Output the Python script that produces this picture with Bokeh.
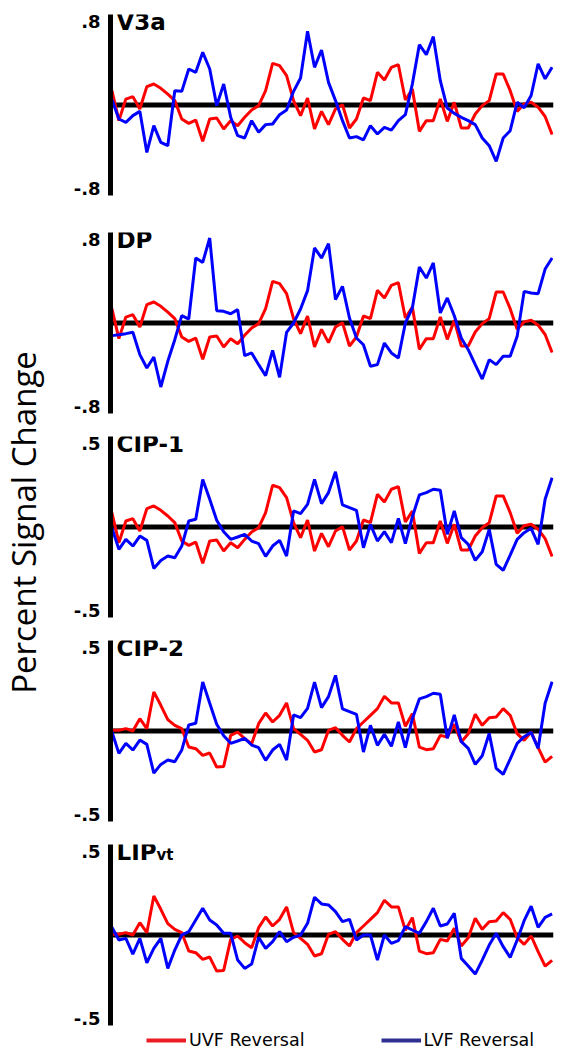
import math
from bokeh.plotting import figure
from bokeh.models import Range1d, LinearAxis, FixedTicker, Span, Label, Legend, LegendItem
from bokeh.layouts import row, column
from bokeh.embed import file_html
from bokeh.resources import INLINE

time_points = list(range(64))

v3a_uvf = [0.137, -0.150, 0.057, 0.080, -0.038, 0.176, 0.201, 0.160, 0.105, 0.042,
           -0.134, -0.176, -0.144, -0.348, -0.134, -0.125, -0.230, -0.150, -0.198, -0.118,
           -0.048, -0.006, 0.137, 0.399, 0.377, 0.281, 0.042, -0.102, 0.067, -0.230,
           -0.061, -0.188, -0.038, 0.003, -0.220, -0.134, 0.067, 0.042, 0.313, 0.240,
           0.361, 0.386, 0.048, 0.153, -0.252, -0.150, -0.150, 0.057, -0.157, 0.026,
           -0.220, -0.220, -0.086, -0.006, 0.042, 0.297, 0.297, 0.137, -0.061, 0.011,
           0.027, -0.021, -0.110, -0.283]
v3a_lvf = [0.053, -0.134, -0.166, -0.102, -0.061, -0.454, -0.198, -0.358, -0.390, 0.137,
           0.131, 0.345, 0.313, 0.505, 0.345, -0.006, 0.201, -0.118, -0.294, -0.316,
           -0.150, -0.262, -0.188, -0.182, -0.093, -0.048, 0.131, 0.259, 0.706, 0.361,
           0.527, 0.217, 0.042, -0.150, -0.316, -0.303, -0.335, -0.198, -0.278, -0.214,
           -0.240, -0.150, -0.093, 0.201, 0.578, 0.482, 0.655, 0.233, -0.029, -0.080,
           -0.118, -0.150, -0.188, -0.316, -0.390, -0.540, -0.316, -0.246, 0.026, -0.027,
           0.091, 0.395, 0.251, 0.362]

dp_uvf = [0.137, -0.150, 0.057, 0.080, -0.038, 0.176, 0.201, 0.160, 0.105, 0.042,
          -0.134, -0.176, -0.144, -0.348, -0.134, -0.125, -0.230, -0.150, -0.198, -0.118,
          -0.048, -0.006, 0.137, 0.399, 0.377, 0.281, 0.042, -0.102, 0.067, -0.230,
          -0.061, -0.188, -0.038, 0.003, -0.220, -0.134, 0.067, 0.042, 0.313, 0.240,
          0.361, 0.386, 0.048, 0.153, -0.252, -0.150, -0.150, 0.057, -0.157, 0.026,
          -0.220, -0.220, -0.086, -0.006, 0.042, 0.297, 0.297, 0.137, -0.061, 0.011,
          0.027, -0.021, -0.110, -0.283]
dp_lvf = [-0.121, -0.112, -0.102, -0.089, -0.303, -0.431, -0.326, -0.613, -0.367, -0.160,
          0.070, 0.038, 0.623, 0.581, 0.814, 0.118, 0.112, 0.089, 0.128, -0.313,
          -0.287, -0.399, -0.505, -0.262, -0.521, -0.089, 0.000, 0.134, 0.310, 0.719,
          0.623, 0.760, 0.224, 0.351, 0.048, -0.144, -0.208, -0.415, -0.399, -0.192,
          -0.287, -0.335, 0.000, 0.144, 0.537, 0.431, 0.575, 0.096, 0.240, 0.070,
          -0.144, -0.256, -0.399, -0.537, -0.351, -0.399, -0.319, -0.319, -0.128, 0.303,
          0.287, 0.281, 0.517, 0.623]

cip1_uvf = [0.086, -0.094, 0.036, 0.050, -0.024, 0.110, 0.126, 0.100, 0.066, 0.026,
            -0.084, -0.110, -0.090, -0.218, -0.084, -0.078, -0.144, -0.094, -0.124, -0.074,
            -0.030, -0.004, 0.086, 0.250, 0.236, 0.176, 0.026, -0.064, 0.042, -0.144,
            -0.038, -0.118, -0.024, 0.002, -0.138, -0.084, 0.042, 0.026, 0.196, 0.150,
            0.226, 0.242, 0.030, 0.096, -0.158, -0.094, -0.094, 0.036, -0.098, 0.016,
            -0.138, -0.138, -0.054, -0.004, 0.026, 0.186, 0.186, 0.086, -0.038, 0.007,
            0.017, -0.013, -0.069, -0.177]
cip1_lvf = [-0.004, -0.134, -0.074, -0.114, -0.054, -0.080, -0.248, -0.200, -0.174, -0.184,
            -0.114, 0.036, 0.046, 0.285, 0.166, 0.040, -0.028, -0.074, -0.060, -0.044,
            -0.084, -0.100, -0.176, -0.114, -0.080, -0.174, 0.096, 0.080, 0.136, 0.285,
            0.140, 0.206, 0.331, 0.132, 0.116, 0.100, -0.124, 0.016, -0.084, -0.028,
            -0.094, 0.052, -0.100, 0.060, 0.192, 0.206, 0.226, 0.220, -0.044, 0.096,
            -0.064, -0.104, -0.200, -0.148, -0.014, -0.224, -0.259, -0.168, -0.074, -0.034,
            -0.008, -0.104, 0.166, 0.295]

cip2_uvf = [0.004, 0.004, 0.014, 0.000, 0.074, 0.014, 0.234, 0.154, 0.068, 0.034,
            0.014, -0.096, -0.106, -0.146, -0.132, -0.216, -0.212, -0.026, -0.006, -0.046,
            -0.076, 0.044, 0.108, 0.054, 0.094, 0.168, 0.014, -0.020, -0.056, -0.126,
            -0.112, 0.004, 0.020, -0.026, -0.066, 0.014, 0.054, 0.094, 0.134, 0.208,
            0.168, 0.168, 0.028, 0.104, -0.096, -0.112, -0.106, -0.026, -0.036, 0.040,
            -0.066, -0.016, 0.100, 0.034, 0.080, 0.084, 0.134, 0.094, -0.016, -0.056,
            -0.006, -0.100, -0.186, -0.152]
cip2_lvf = [-0.004, -0.134, -0.074, -0.114, -0.054, -0.080, -0.252, -0.200, -0.174, -0.184,
            -0.114, 0.036, 0.046, 0.293, 0.166, 0.040, -0.028, -0.074, -0.060, -0.044,
            -0.084, -0.100, -0.176, -0.114, -0.080, -0.174, 0.096, 0.080, 0.136, 0.293,
            0.140, 0.206, 0.333, 0.132, 0.116, 0.100, -0.126, 0.034, -0.086, -0.020,
            -0.092, 0.054, -0.100, 0.074, 0.192, 0.206, 0.226, 0.220, -0.044, 0.096,
            -0.064, -0.104, -0.200, -0.148, -0.014, -0.224, -0.259, -0.168, -0.074, -0.034,
            -0.008, -0.104, 0.166, 0.295]

lip_uvf = [0.004, 0.004, 0.014, 0.000, 0.074, 0.014, 0.234, 0.154, 0.068, 0.034,
           0.014, -0.096, -0.106, -0.146, -0.132, -0.216, -0.212, -0.026, -0.006, -0.046,
           -0.076, 0.044, 0.108, 0.054, 0.094, 0.168, 0.014, -0.020, -0.056, -0.126,
           -0.112, 0.004, 0.020, -0.026, -0.066, 0.014, 0.054, 0.094, 0.134, 0.208,
           0.168, 0.168, 0.028, 0.104, -0.096, -0.112, -0.106, -0.026, -0.036, 0.040,
           -0.066, -0.016, 0.100, 0.034, 0.080, 0.084, 0.134, 0.094, -0.016, -0.056,
           -0.006, -0.100, -0.186, -0.152]
lip_lvf = [0.046, -0.030, -0.020, -0.114, -0.020, -0.166, -0.080, -0.020, -0.200, -0.090,
           0.000, 0.020, 0.090, 0.160, 0.090, 0.060, 0.010, 0.010, -0.150, -0.200,
           -0.174, -0.014, -0.080, -0.040, 0.020, -0.040, -0.014, 0.000, 0.070, 0.226,
           0.186, 0.180, 0.140, 0.080, 0.094, -0.030, 0.000, 0.000, -0.150, 0.000,
           -0.050, -0.034, 0.050, 0.030, 0.010, 0.080, 0.160, 0.054, 0.066, 0.130,
           -0.140, -0.186, -0.234, -0.150, -0.060, 0.010, -0.070, -0.134, -0.030, 0.086,
           0.172, 0.046, 0.106, 0.126]

panel_titles = ["V3a", "DP", "CIP-1", "CIP-2", "LIP"]
panel_limits = [0.8, 0.8, 0.5, 0.5, 0.5]
tick_texts = [".8", ".8", ".5", ".5", ".5"]
legend_labels = ["UVF Reversal", "LVF Reversal"]
y_label = "Percent Signal Change"

FONT = "Open Sans"
BOLD_FONT = "DejaVu Sans"
RED = "#FF0000"
BLUE = "#0000FF"
PANEL_W = 511
LEFT_W = 50


def bare(p):
    p.outline_line_color = None
    p.xgrid.visible = False
    p.ygrid.visible = False
    p.background_fill_color = "white"
    p.border_fill_color = "white"


def make_panel(title, uvf, lvf, lim, tick_text, height, top, bottom, sub=None):
    ext = lim * 90.5 / 83.5
    p = figure(width=PANEL_W, height=height, output_backend="svg", toolbar_location=None,
               x_range=Range1d(-0.2, 63.2), y_range=Range1d(-ext, ext),
               x_axis_location=None, y_axis_location=None,
               min_border_left=60, min_border_right=8,
               min_border_top=top, min_border_bottom=bottom)
    bare(p)

    ax = LinearAxis(ticker=FixedTicker(ticks=[-lim, lim]),
                    major_label_overrides={lim: tick_text, -lim: "-" + tick_text})
    ax.axis_line_width = 5
    ax.axis_line_color = "black"
    ax.major_tick_line_color = None
    ax.minor_tick_line_color = None
    ax.major_tick_out = 0
    ax.major_tick_in = 0
    ax.major_label_standoff = 10
    ax.major_label_text_font = BOLD_FONT
    ax.major_label_text_font_style = "bold"
    ax.major_label_text_font_size = "18px"
    ax.major_label_text_color = "black"
    p.add_layout(ax, "left")

    p.add_layout(Span(location=0, dimension="width", line_color="black",
                      line_width=5, level="underlay"))

    p.line(time_points, uvf, line_color=RED, line_width=3)
    p.line(time_points, lvf, line_color=BLUE, line_width=3)

    p.add_layout(Label(x=-0.2, y=ext, x_offset=6, y_offset=-7, text=title,
                       text_font=BOLD_FONT, text_font_style="bold",
                       text_font_size="23px", text_baseline="middle",
                       text_color="black"))
    if sub:
        p.add_layout(Label(x=-0.2, y=ext, x_offset=46, y_offset=-10, text=sub,
                           text_font=BOLD_FONT, text_font_style="bold",
                           text_font_size="15px", text_baseline="middle",
                           text_color="black"))
    return p


p1 = make_panel(panel_titles[0], v3a_uvf, v3a_lvf, panel_limits[0], tick_texts[0], 214, 14, 19)
p2 = make_panel(panel_titles[1], dp_uvf, dp_lvf, panel_limits[1], tick_texts[1], 210, 18, 11)
p3 = make_panel(panel_titles[2], cip1_uvf, cip1_lvf, panel_limits[2], tick_texts[2], 204, 12, 11)
p4 = make_panel(panel_titles[3], cip2_uvf, cip2_lvf, panel_limits[3], tick_texts[3], 204, 12, 11)
p5 = make_panel(panel_titles[4], lip_uvf, lip_lvf, panel_limits[4], tick_texts[4], 196, 12, 3,
                sub="vt")

# legend strip under the last panel (legend-only renderers are hidden)
lg = figure(width=PANEL_W, height=26, output_backend="svg", toolbar_location=None,
            x_range=Range1d(-0.2, 63.2), y_range=Range1d(-1, 1),
            x_axis_location=None, y_axis_location=None, min_border=0)
bare(lg)
leg_u = lg.line(time_points, lip_uvf, line_color="#ED1C24", line_width=4, visible=False)
leg_l = lg.line(time_points, lip_lvf, line_color="#2E3192", line_width=4, visible=False)
legend = Legend(items=[LegendItem(label=legend_labels[0], renderers=[leg_u]),
                       LegendItem(label=legend_labels[1], renderers=[leg_l])],
                location=(36, 4), orientation="horizontal",
                glyph_width=40, glyph_height=14, label_standoff=3, label_height=14,
                spacing=76, padding=0, margin=0,
                border_line_color=None, background_fill_alpha=0,
                inactive_fill_alpha=0,
                label_text_font="DejaVu Sans", label_text_font_size="17.5px",
                label_text_color="black")
lg.add_layout(legend)

lf = figure(width=LEFT_W, height=1054, output_backend="svg", toolbar_location=None,
            x_range=Range1d(0, LEFT_W), y_range=Range1d(0, 1054),
            x_axis_location=None, y_axis_location=None, min_border=0)
bare(lf)
lf.add_layout(Label(x=23, y=532, text=y_label, angle=math.pi / 2,
                    text_align="center", text_baseline="middle",
                    text_font=FONT, text_font_size="33px", text_color="black"))

layout = row(lf, column(p1, p2, p3, p4, p5, lg, spacing=0), spacing=0)

open("out.html", "w").write(file_html(layout, INLINE))
